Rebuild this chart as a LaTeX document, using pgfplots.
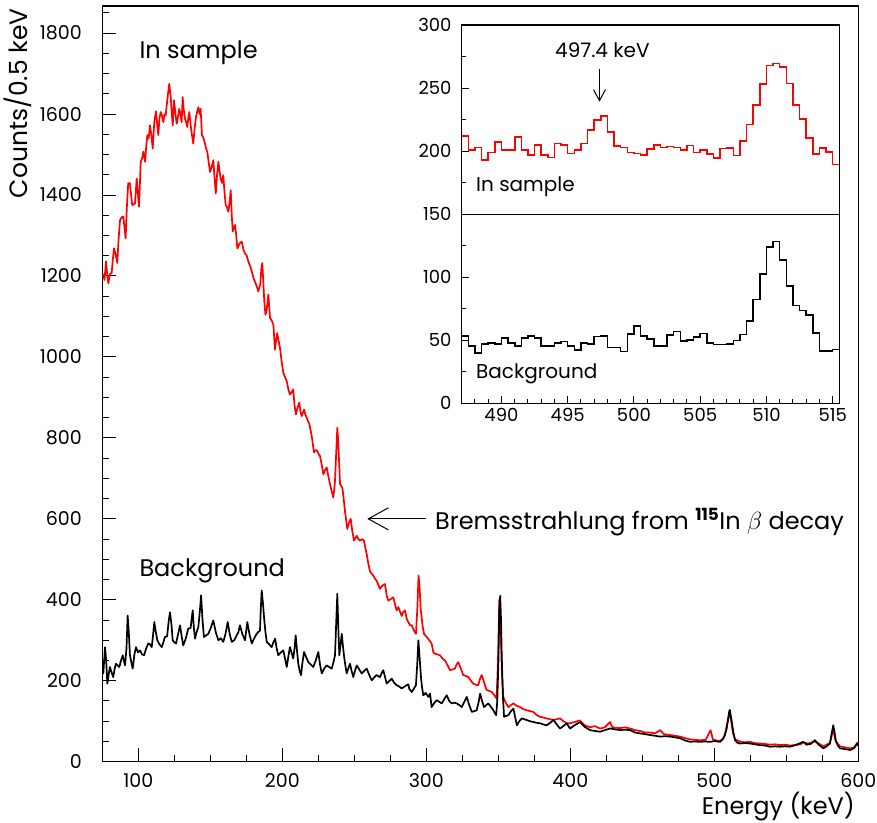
\documentclass[border=0pt]{standalone}
\usepackage{pgfplots}
\pgfplotsset{compat=1.18}
\usepackage{fontspec}
\setmainfont{Poppins}
\usetikzlibrary{arrows.meta}
\begin{document}
\begin{tikzpicture}
\path[use as bounding box] (-102.3bp,-61.3bp) rectangle (774.7bp,761.7bp);
\begin{axis}[
  at={(0,0)}, anchor=south west, scale only axis,
  width=756bp, height=755.7bp,
  xmin=75, xmax=600, ymin=0, ymax=1867,
  xtick={100,200,...,600}, minor xtick={75,100,...,600},
  ytick={0,200,...,1800}, minor ytick={0,50,...,1850},
  tick align=inside, xtick pos=bottom, ytick pos=left,
  major tick length=14bp, minor tick length=7bp,
  every tick/.style={black, line width=1bp},
  axis line style={line width=1.2bp},
  /pgf/number format/assume math mode=true,
  /pgf/number format/1000 sep={},
  xticklabel style={font=\fontsize{19bp}{19bp}\selectfont, inner sep=0pt, anchor=north, yshift=-11.6bp},
  yticklabel style={font=\fontsize{19bp}{19bp}\selectfont, inner sep=0pt, anchor=east, xshift=-20.3bp},
  clip=true,
]
\addplot[red, line width=1.7bp, sharp plot, line join=round] coordinates {
(75,1200)(75.7,1203)(76.5,1190)(77.6,1236)(78.5,1200)(79.2,1182)(80.3,1205)(81.5,1207)(82.3,1240)(83.1,1268)
(84.2,1255)(85.4,1232)(86.3,1290)(87.3,1338)(88.5,1345)(89.6,1347)(90.4,1320)(91.2,1293)(92,1367)(93,1429)
(94.2,1429)(95,1400)(95.8,1375)(97.7,1379)(98.9,1441)(99.8,1400)(100.5,1371)(101.7,1482)(102.6,1490)(103.5,1507)
(104.7,1482)(105.5,1520)(106.3,1548)(107.2,1540)(108.1,1572)(109,1550)(110,1515)(111.1,1580)(112.3,1607)(113.1,1575)
(113.9,1548)(114.7,1590)(115.6,1605)(116.5,1595)(117.4,1580)(118.2,1600)(119,1597)(120.1,1634)(121.5,1675)(122.5,1642)
(123.3,1600)(123.9,1572)(124.8,1634)(125.8,1600)(126.7,1576)(127.6,1595)(128.5,1613)(129.3,1598)(130.1,1580)(130.8,1642)
(131.6,1610)(132.4,1589)(133.2,1580)(134,1568)(134.7,1590)(135.4,1605)(136.3,1575)(137.1,1552)(138.2,1527)(139,1560)
(139.9,1589)(140.8,1605)(141.7,1617)(142.5,1600)(143.3,1613)(144.2,1548)(145.3,1540)(146.3,1527)(147.1,1515)(147.9,1507)
(148.9,1480)(149.8,1457)(151,1470)(152.1,1486)(153,1440)(153.8,1404)(154.7,1450)(155.6,1482)(156.4,1460)(157.2,1441)
(158.1,1430)(159,1449)(159.8,1410)(160.7,1375)(161.6,1370)(162.5,1359)(163.3,1380)(164.2,1412)(164.9,1350)(165.6,1310)
(166.4,1320)(167.2,1326)(168,1300)(168.8,1268)(170.3,1280)(171.8,1285)(173,1265)(174.1,1256)(175.3,1250)(176.4,1236)
(177.6,1225)(178.8,1211)(180,1195)(181,1186)(182.2,1175)(183.3,1162)(184.7,1180)(185.5,1220)(186.1,1232)(186.8,1186)
(187.5,1137)(188.3,1104)(189.2,1117)(190.3,1154)(191.5,1096)(192.6,1090)(193.8,1080)(194.9,1018)(195.7,1040)(196.5,1059)
(197.4,1040)(198.4,1022)(199.5,990)(200.7,961)(201.9,950)(203.1,940)(204.2,920)(205.3,907)(206.4,912)(207.6,920)
(208.5,880)(209.5,858)(210.6,875)(211.8,887)(212.6,865)(213.5,854)(214.3,862)(215.1,870)(216,858)(216.9,850)
(217.8,842)(218.8,834)(219.6,820)(220.4,805)(221.2,785)(222,764)(223.1,770)(224.3,768)(225.2,760)(226.2,755)
(227.3,735)(228.5,710)(229.6,720)(230.8,727)(232,705)(233.1,686)(234.2,670)(235.4,653)(236,670)(236.6,694)
(237.4,760)(238.2,825)(238.7,800)(239.2,760)(239.7,720)(240.1,686)(241.7,677)(242.6,650)(243.5,620)(244.3,598)
(245.1,575)(246.3,590)(247.5,600)(248.6,570)(249.8,546)(250.7,552)(251.7,558)(252.8,550)(254,546)(255.3,550)
(256.7,546)(257.6,530)(258.6,513)(259.7,490)(260.9,470)(262,465)(263.2,460)(264.4,452)(265.5,447)(266.7,437)
(267.8,427)(269.5,435)(271.3,439)(272.5,410)(273.6,398)(275.4,402)(277.1,406)(278.2,390)(279.4,374)(280.6,382)
(282.9,360)(284,370)(285.2,374)(286.4,353)(287.5,345)(288.7,337)(289.9,337)(291.3,325)(292.8,316)(293.8,380)
(294.6,460)(295.2,440)(296.1,378)(297.5,333)(298.5,315)(300.3,308)(302.1,300)(303.7,292)(304.9,270)(306,267)
(307.8,265)(309.5,263)(311.2,255)(313,250)(314.8,238)(316.5,226)(318.2,228)(319.9,230)(321,240)(322.2,246)
(324,230)(325.7,214)(327.5,212)(329.2,209)(331,200)(332.6,193)(334.4,190)(336.1,189)(337.3,205)(338.5,214)
(340.2,195)(341.9,177)(343.7,175)(345.4,172)(347.1,165)(348.8,156)(349.8,250)(350.7,400)(351.6,330)(352.5,220)
(353.5,160)(355.2,145)(357,135)(358.8,140)(360.5,144)(362.8,138)(365.1,135)(367.4,130)(369.7,127)(372,125)
(374.4,123)(376.7,115)(379,111)(381.3,109)(383.6,107)(386,105)(388.3,103)(390.6,105)(392.9,107)(395.2,100)
(397.5,95)(400,95)(403,98)(406.7,102)(410,90)(413.7,85)(417,88)(420.6,82)(424,85)(427.6,98)
(429,86)(431,84)(434.5,83)(438,85)(441.5,82)(445,78)(448.4,76)(452,72)(455.4,72)(459,70)
(462.3,78)(465,68)(469.3,66)(473,64)(476.2,62)(480,58)(483.2,55)(487,54)(490.1,53)(494,54)
(497.4,78)(499,55)(502,52)(504,52)(506,55)(507.5,70)(509,95)(510.3,118)(511.5,105)(513,70)
(514.5,55)(517.8,50)(521,48)(524.8,49)(528,46)(531.7,45)(535,44)(538.7,42)(542,43)(545.6,41)
(549,42)(552.6,40)(556,41)(560,43)(561.8,48)(565,45)(569.9,50)(573,44)(575.7,38)(578,42)
(580.3,46)(582.6,80)(584.3,50)(587.3,38)(590,36)(594.3,33)(597,35)(599.3,47)(600,45)
};
\addplot[black, line width=1.7bp, sharp plot, line join=round] coordinates {
(75,250)(75.7,218)(76.9,283)(77.7,250)(78.5,193)(79.4,215)(80.3,234)(81.5,220)(82.6,209)(83.6,230)
(84.5,242)(85.6,238)(86.8,234)(88,250)(89.2,263)(90,250)(90.8,238)(91.8,280)(92.6,361)(93.4,320)
(94.2,263)(95.2,245)(96.1,230)(97.3,265)(98.4,283)(99.8,270)(101.2,275)(102.6,265)(104,263)(105.5,280)
(106.9,292)(108.1,290)(109.3,283)(110.2,310)(111.1,345)(112.2,320)(113.2,300)(114.7,290)(116.3,283)(117.4,295)
(118.5,308)(120,310)(121.2,350)(122,369)(123,340)(123.9,300)(125,295)(126.2,292)(127.6,315)(129,337)
(130.1,310)(131.2,287)(133,305)(134.7,329)(136.3,330)(137.8,374)(138.6,330)(139.4,304)(140.5,320)(141.7,333)
(142.7,370)(143.6,411)(144.6,350)(145.6,308)(147.1,312)(148.6,316)(150.3,330)(152.1,349)(153.8,320)(155.6,300)
(157.3,305)(159,296)(160.5,315)(162.1,345)(163.5,315)(164.9,296)(166.6,300)(168.3,312)(169.5,320)(170.6,337)
(172.3,315)(174.1,300)(175.7,345)(177.2,315)(178.8,292)(180.5,305)(182.2,316)(183.3,320)(184.5,324)(185.1,380)
(185.7,423)(186.6,390)(187.5,349)(188.3,320)(189.2,296)(190.9,290)(192.6,283)(193.8,295)(195,304)(196.1,280)
(197.2,263)(199,270)(200.7,275)(201.9,255)(203.1,234)(204.2,260)(205.3,283)(206.4,270)(207.6,255)(208.5,280)
(209.3,312)(210.2,275)(211.1,242)(212,225)(213,214)(214,245)(215.1,271)(216.6,258)(218.1,246)(219.8,240)
(221.5,234)(223.2,250)(225,271)(226.2,240)(227.4,218)(229.1,230)(230.8,238)(232.5,234)(234.3,230)(235.5,245)
(236.6,263)(237.4,340)(238.2,415)(238.9,330)(239.6,263)(240.5,290)(241.3,316)(242,290)(242.8,263)(243.7,240)
(244.7,218)(245.8,230)(247,242)(248.1,225)(249.3,209)(250.5,225)(251.7,238)(253.4,228)(255.1,218)(256.8,224)
(258.6,230)(260.3,215)(262.1,201)(263.8,208)(265.5,214)(267.8,209)(268.9,218)(270.1,226)(271.3,210)(272.5,193)
(273.6,197)(274.8,201)(276,205)(277.7,195)(279.4,189)(281.1,186)(282.9,181)(284.6,185)(286.4,189)(287.5,191)
(288.2,180)(289.9,172)(291.3,180)(292.8,189)(293.7,240)(294.5,300)(295.3,260)(296.3,209)(297,185)(297.9,164)
(299.6,170)(301.4,160)(302.6,168)(303.7,135)(305.5,145)(307.2,152)(309,148)(310.7,144)(312.5,155)(314.2,164)
(315.9,150)(317.6,144)(319.4,146)(321.1,144)(322.9,140)(324.6,135)(326.4,148)(328.1,160)(329.8,140)(331.6,123)
(333.3,125)(335,127)(336.2,145)(337.4,168)(338.7,150)(340.1,135)(341.6,140)(343.1,144)(344.8,136)(346.6,127)
(347.6,120)(348.5,115)(349.3,150)(350.1,250)(350.7,380)(351.3,410)(351.9,350)(352.4,259)(353.2,160)(354,111)
(355.5,113)(357,115)(358.8,125)(360.5,131)(361.7,110)(362.9,90)(364.6,100)(366.3,107)(368,105)(369.7,103)
(372,100)(374.4,98)(376.7,96)(379,95)(381.3,92)(383.6,90)(386,96)(388.3,103)(390.6,92)(392.9,82)
(395.2,88)(397.5,95)(399.8,82)(403,90)(406.7,98)(410,86)(413.7,78)(417,76)(420.6,74)(424,78)
(427.6,82)(431,80)(434.5,78)(438,79)(441.5,78)(445,72)(448.4,70)(452,68)(455.4,66)(459,64)
(462.3,62)(466,63)(469.3,62)(473,60)(476.2,58)(480,52)(483.2,49)(486.5,50)(490.1,49)(493.5,50)
(497,49)(500,51)(502,50)(504,49)(505.5,55)(507,62)(508.5,80)(509.5,103)(510.3,124)(510.8,128)
(511.5,112)(512.3,95)(513.2,73)(514.4,53)(516,47)(517.8,45)(521.3,46)(524.8,45)(528.2,43)(531.7,41)
(535.2,40)(538.7,37)(542,38)(545.6,37)(549,38)(552.6,37)(557,42)(561.8,49)(564,42)(567,44)
(569.9,53)(572.5,42)(575.7,33)(578,38)(580.3,45)(581.5,70)(582.6,90)(583.4,75)(584.3,53)(585.8,40)
(587.3,33)(590.8,31)(594.3,29)(597,33)(599.3,45)(600,40)
};
\node[anchor=base west, inner sep=0pt, font=\fontsize{24bp}{24bp}\selectfont] at (axis cs:100.7,1738) {In sample};
\node[anchor=base west, inner sep=0pt, font=\fontsize{24bp}{24bp}\selectfont] at (axis cs:100.7,457) {Background};
\node[anchor=base west, inner sep=0pt, font=\fontsize{24bp}{24bp}\selectfont] at (axis cs:306,574) {Bremsstrahlung from \textsuperscript{\bfseries 115}In $\beta$ decay};
\draw[line width=1bp, -{Straight Barb[length=20bp,width=22bp,line width=1bp]}] (axis cs:299.6,600) -- (axis cs:259.0,600);
\end{axis}
\node[rotate=90, anchor=east, inner sep=0pt, font=\fontsize{25bp}{25bp}\selectfont] at (-84.3bp,753.7bp) {Counts/0.5 keV};
\node[anchor=base east, inner sep=0pt, font=\fontsize{24bp}{24bp}\selectfont] at (752.7bp,-52.5bp) {Energy (keV)};
\begin{axis}[
  at={(359.4bp,358.4bp)}, anchor=south west, scale only axis,
  width=377.6bp, height=378.3bp,
  xmin=487, xmax=515.5, ymin=0, ymax=300,
  axis background/.style={fill=white},
  xtick={490,495,...,515}, minor xtick={487,488,...,515},
  ytick={0,50,...,300}, minor ytick={0,25,...,300},
  tick align=inside, xtick pos=bottom, ytick pos=left,
  major tick length=7bp, minor tick length=4bp,
  every tick/.style={black, line width=1bp},
  axis line style={line width=1.2bp},
  /pgf/number format/assume math mode=true,
  xticklabel style={font=\fontsize{18bp}{18bp}\selectfont, inner sep=0pt, anchor=north, yshift=-5bp},
  yticklabel style={font=\fontsize{18bp}{18bp}\selectfont, inner sep=0pt, anchor=east, xshift=-10bp},
]
\addplot[black, line width=1.2bp, sharp plot, forget plot] coordinates {(487,150)(515.5,150)};
\addplot[red, line width=1.6bp, const plot] coordinates {
(487,212)(487.5,201)(488,203)(488.5,193)(489,199)(489.5,207)(490,201)(490.5,201)(491,211)(491.5,201)
(492,197)(492.5,205)(493,197)(493.5,195)(494,206)(494.5,205)(495,198)(495.5,201)(496,206)(496.5,216.5)
(497,224.5)(497.5,228)(498,215)(498.5,204)(499,203)(499.5,199)(500,198)(500.5,197)(501,201.5)(501.5,205)
(502,203)(502.5,203.6)(503,203)(503.5,201)(504,204.5)(504.5,199)(505,201)(505.5,197.5)(506,194.3)(506.5,202)
(507,202.5)(507.5,196.5)(508,207.8)(508.5,221)(509,236.5)(509.5,253)(510,268)(510.5,269.6)(511,266.8)(511.5,253.5)
(512,236.5)(512.5,225.3)(513,210.5)(513.5,197.8)(514,202.5)(514.5,199.3)(515,189.5)(515.5,189.5)
};
\addplot[black, line width=1.6bp, const plot] coordinates {
(487,53.4)(487.5,45.5)(488,39.7)(488.5,47)(489,48)(489.5,47)(490,51.6)(490.5,47.6)(491,45.5)(491.5,51.6)
(492,53.4)(492.5,51.6)(493,45.5)(493.5,45.5)(494,48)(494.5,49)(495,45.5)(495.5,42.3)(496,47.6)(496.5,47)
(497,52.9)(497.5,53.4)(498,44.4)(498.5,44.4)(499,41)(499.5,55)(500,61.4)(500.5,53.4)(501,51)(501.5,45.5)
(502,45.5)(502.5,54)(503,57)(503.5,49.5)(504,50.3)(504.5,52.7)(505,55.3)(505.5,48)(506,46.7)(506.5,46.7)
(507,47)(507.5,49.7)(508,54.5)(508.5,65.3)(509,82.3)(509.5,102.5)(510,123.8)(510.5,128.3)(511,113.7)(511.5,93)
(512,77.5)(512.5,73.6)(513,70.2)(513.5,55.9)(514,41.5)(514.5,41.5)(515,42.8)(515.5,42.8)
};
\node[anchor=base west, inner sep=0pt, font=\fontsize{20bp}{20bp}\selectfont] at (axis cs:494.04,274.4) {497.4 keV};
\draw[line width=1bp, -{Straight Barb[length=11bp,width=12bp,line width=1bp]}] (axis cs:497.4,265) -- (axis cs:497.4,239.2);
\node[anchor=base west, inner sep=0pt, font=\fontsize{20bp}{20bp}\selectfont] at (axis cs:488.08,167.8) {In sample};
\node[anchor=base west, inner sep=0pt, font=\fontsize{20bp}{20bp}\selectfont] at (axis cs:488.08,19.8) {Background};
\end{axis}
\end{tikzpicture}
\end{document}
